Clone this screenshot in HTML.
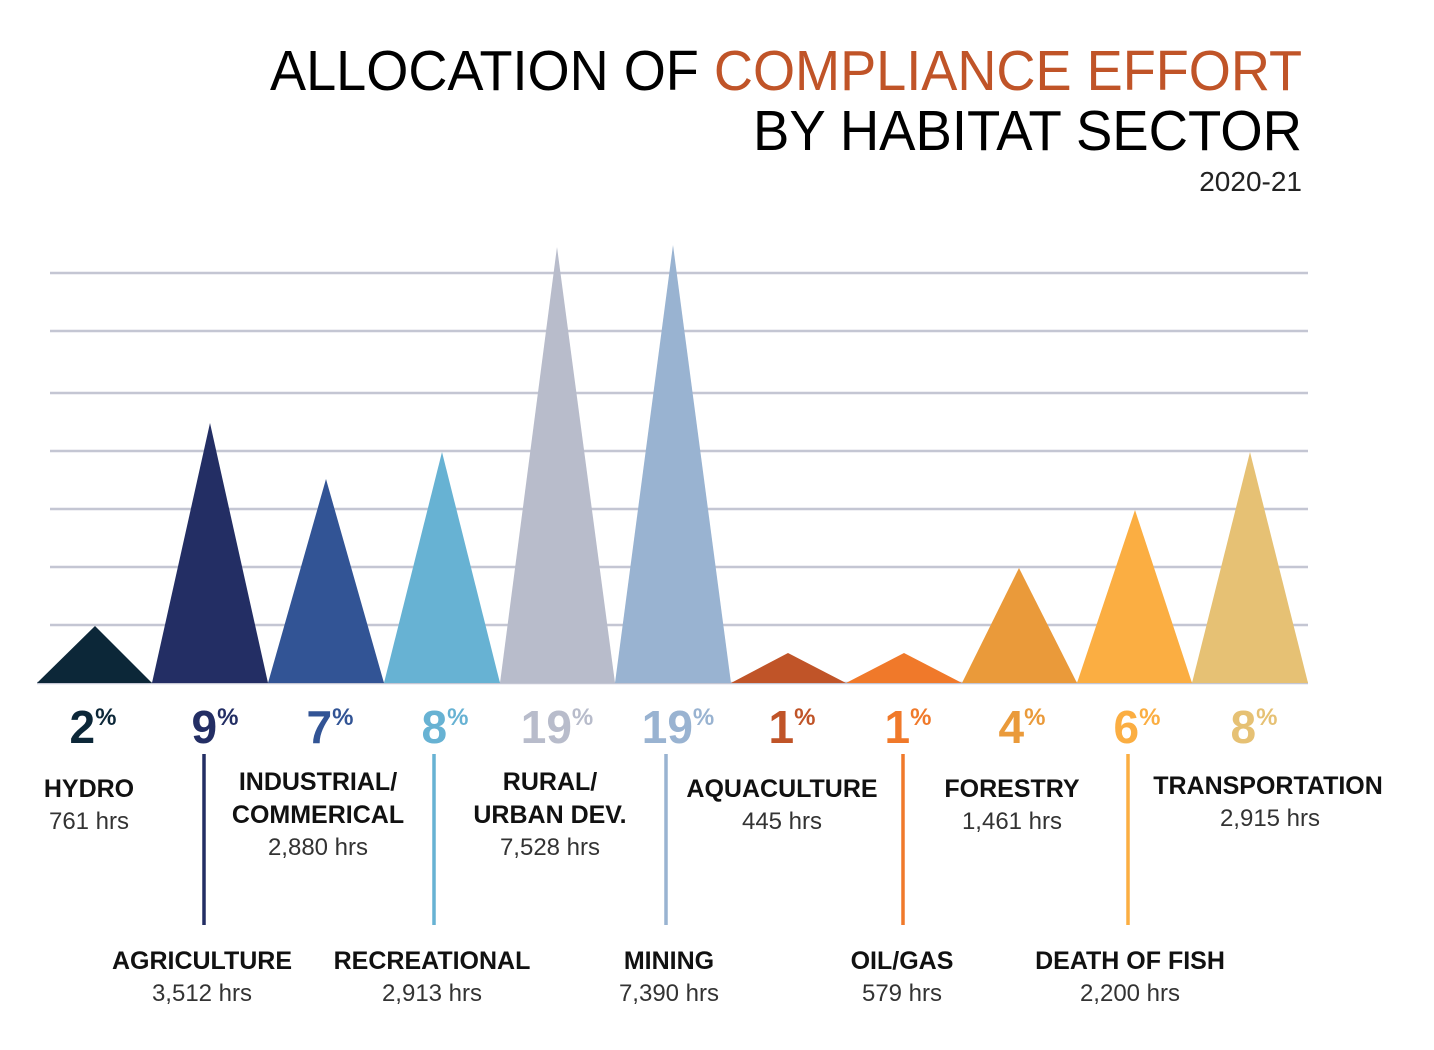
<!DOCTYPE html>
<html><head><meta charset="utf-8"><style>
body{margin:0;background:#fff}
svg{display:block;font-family:"Liberation Sans",sans-serif}
.b{font-weight:bold;font-size:25px;fill:#111}
.h{font-size:24px;fill:#333}
.p{font-weight:bold;font-size:46px}
</style></head><body>
<svg width="1434" height="1050" viewBox="0 0 1434 1050">
<text x="1302" y="90" text-anchor="end" font-size="57" textLength="1032" lengthAdjust="spacingAndGlyphs" fill="#000">ALLOCATION OF <tspan fill="#c05428">COMPLIANCE EFFORT</tspan></text>
<text x="1302" y="150" text-anchor="end" font-size="57" textLength="549" lengthAdjust="spacingAndGlyphs" fill="#000">BY HABITAT SECTOR</text>
<text x="1302" y="191" text-anchor="end" font-size="28" fill="#222">2020-21</text>
<g stroke="#c4c6d3" stroke-width="2.5">
<line x1="50" y1="273" x2="1308" y2="273"/><line x1="50" y1="331" x2="1308" y2="331"/><line x1="50" y1="393" x2="1308" y2="393"/><line x1="50" y1="451" x2="1308" y2="451"/><line x1="50" y1="509" x2="1308" y2="509"/><line x1="50" y1="567" x2="1308" y2="567"/><line x1="50" y1="625" x2="1308" y2="625"/><line x1="37" y1="683" x2="1308" y2="683"/>
</g>
<polygon points="37,683 95,626 152,683" fill="#0c2738"/>
<polygon points="152,683 210,423 268,683" fill="#232e64"/>
<polygon points="268,683 326,479 384,683" fill="#325495"/>
<polygon points="384,683 442,452 500,683" fill="#67b2d3"/>
<polygon points="500,683 557,247 615,683" fill="#b8bccb"/>
<polygon points="615,683 673,245 731,683" fill="#99b3d1"/>
<polygon points="731,683 788,653 846,683" fill="#c05428"/>
<polygon points="846,683 904,653 962,683" fill="#f0792a"/>
<polygon points="962,683 1019,568 1077,683" fill="#ea9a3a"/>
<polygon points="1077,683 1135,510 1192,683" fill="#fbae42"/>
<polygon points="1192,683 1250,452 1308,683" fill="#e6c174"/>
<g class="p" text-anchor="middle">
<text x="93" y="743" fill="#0c2738">2<tspan font-size="24" dy="-18">%</tspan></text>
<text x="215" y="743" fill="#232e64">9<tspan font-size="24" dy="-18">%</tspan></text>
<text x="330" y="743" fill="#325495">7<tspan font-size="24" dy="-18">%</tspan></text>
<text x="445" y="743" fill="#67b2d3">8<tspan font-size="24" dy="-18">%</tspan></text>
<text x="557" y="743" fill="#b8bccb">19<tspan font-size="24" dy="-18">%</tspan></text>
<text x="678" y="743" fill="#99b3d1">19<tspan font-size="24" dy="-18">%</tspan></text>
<text x="792" y="743" fill="#c05428">1<tspan font-size="24" dy="-18">%</tspan></text>
<text x="908" y="743" fill="#f0792a">1<tspan font-size="24" dy="-18">%</tspan></text>
<text x="1022" y="743" fill="#ea9a3a">4<tspan font-size="24" dy="-18">%</tspan></text>
<text x="1137" y="743" fill="#fbae42">6<tspan font-size="24" dy="-18">%</tspan></text>
<text x="1254" y="743" fill="#e6c174">8<tspan font-size="24" dy="-18">%</tspan></text>
</g>
<g stroke-width="3.5">
<line x1="204" y1="754" x2="204" y2="925" stroke="#232e64"/>
<line x1="434" y1="754" x2="434" y2="925" stroke="#67b2d3"/>
<line x1="666" y1="754" x2="666" y2="925" stroke="#99b3d1"/>
<line x1="903" y1="754" x2="903" y2="925" stroke="#f0792a"/>
<line x1="1128" y1="754" x2="1128" y2="925" stroke="#fbae42"/>
</g>
<g text-anchor="middle">
<text class="b" x="89" y="797">HYDRO</text><text class="h" x="89" y="829">761 hrs</text>
<text class="b" x="318" y="790">INDUSTRIAL/</text><text class="b" x="318" y="823">COMMERICAL</text><text class="h" x="318" y="855">2,880 hrs</text>
<text class="b" x="550" y="790">RURAL/</text><text class="b" x="550" y="823">URBAN DEV.</text><text class="h" x="550" y="855">7,528 hrs</text>
<text class="b" x="782" y="797">AQUACULTURE</text><text class="h" x="782" y="829">445 hrs</text>
<text class="b" x="1012" y="797">FORESTRY</text><text class="h" x="1012" y="829">1,461 hrs</text>
<text class="b" x="1268" y="794">TRANSPORTATION</text><text class="h" x="1270" y="826">2,915 hrs</text>
<text class="b" x="202" y="969">AGRICULTURE</text><text class="h" x="202" y="1001">3,512 hrs</text>
<text class="b" x="432" y="969">RECREATIONAL</text><text class="h" x="432" y="1001">2,913 hrs</text>
<text class="b" x="669" y="969">MINING</text><text class="h" x="669" y="1001">7,390 hrs</text>
<text class="b" x="902" y="969">OIL/GAS</text><text class="h" x="902" y="1001">579 hrs</text>
<text class="b" x="1130" y="969">DEATH OF FISH</text><text class="h" x="1130" y="1001">2,200 hrs</text>
</g>
</svg>
</body></html>
